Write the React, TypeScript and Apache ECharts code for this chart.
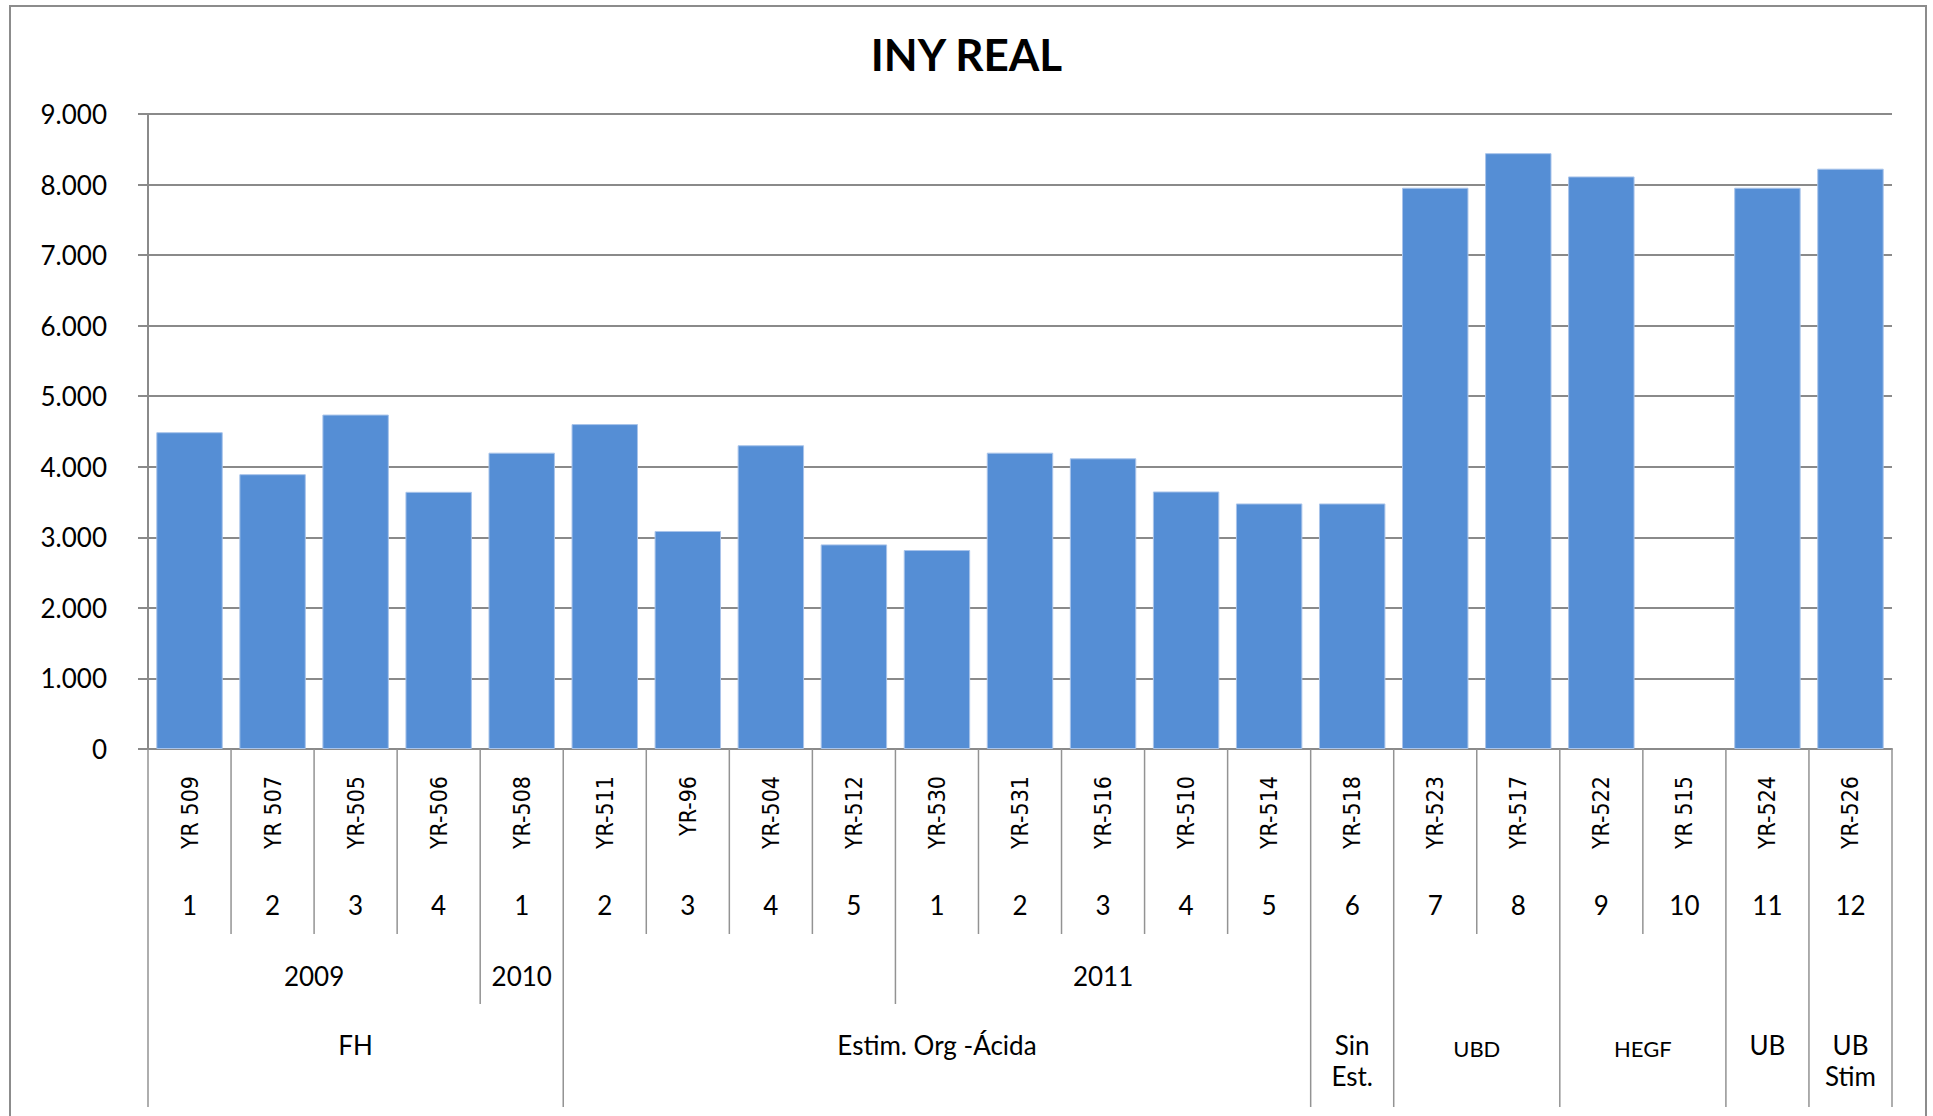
import React, { useEffect, useRef } from "react";
import * as echarts from "echarts";

// ---- data ----
const categories = [
  "YR 509", "YR 507", "YR-505", "YR-506", "YR-508", "YR-511", "YR-96", "YR-504", "YR-512",
  "YR-530", "YR-531", "YR-516", "YR-510", "YR-514", "YR-518", "YR-523", "YR-517", "YR-522",
  "YR 515", "YR-524", "YR-526",
];
const wellNumbers = ["1", "2", "3", "4", "1", "2", "3", "4", "5", "1", "2", "3", "4", "5", "6", "7", "8", "9", "10", "11", "12"];
const injectivity = [
  4490, 3895, 4740, 3645, 4200, 4605, 3090, 4305, 2900, 2820, 4200, 4120, 3650, 3480, 3480,
  7955, 8445, 8115, null, 7955, 8225,
];
const yearLabels = ["2009", "2010", "2011"];
const yearStarts = [0, 4, 9];
const yearEnds = [3, 4, 13];
const groupLabels = ["FH", "Estim. Org -Ácida", "Sin\nEst.", "UBD", "HEGF", "UB", "UB\nStim"];
const groupStarts = [0, 5, 14, 15, 17, 19, 20];
const groupEnds = [4, 13, 14, 16, 18, 19, 20];
const yMin = 0;
const yMax = 9000;
const yStep = 1000;

// ---- styles ----
const LABEL_FONT = "Lato, 'Liberation Sans', sans-serif";
const NAME_FONT = "'Liberation Sans Narrow', 'DejaVu Sans Condensed', 'DejaVu Sans', sans-serif";
const GRID_GRAY = "#8a8a8a";
const DIV_GRAY = "#939393";
const BAR_BLUE = "#558ed5";
const SMALL_GROUPS = new Set(["UBD", "HEGF"]);
// divider lengths below the axis: category row, year row, group row
const DIV_LEN = [185, 255, 358];
const YEAR_ROW = 227;
const GROUP_ROW = 295;

function fmt(v: number) {
  return String(v).replace(/\B(?=(\d{3})+(?!\d))/g, ".");
}

export default function App() {
  const ref = useRef<HTMLDivElement>(null);

  useEffect(() => {
    if (!ref.current) return;
    const chart = echarts.init(ref.current, null, { renderer: "svg" });
    const N = categories.length;

    const depth = new Array(N + 1).fill(0);
    yearStarts.forEach((s, k) => {
      depth[s] = Math.max(depth[s], 1);
      depth[yearEnds[k] + 1] = Math.max(depth[yearEnds[k] + 1], 1);
    });
    groupStarts.forEach((s, k) => {
      depth[s] = 2;
      depth[groupEnds[k] + 1] = 2;
    });

    const option: any = {
      animation: false,
      backgroundColor: "#fff",
      title: {
        text: "INY REAL",
        left: "center",
        top: 32,
        padding: 0,
        textStyle: { fontFamily: LABEL_FONT, fontWeight: "bold", fontSize: 44, color: "#000" },
      },
      graphic: [
        {
          type: "rect",
          silent: true,
          shape: { x: 10, y: 6, width: 1916, height: 1200 },
          style: { fill: "none", stroke: "#8c8c8c", lineWidth: 2 },
        },
      ],
      grid: {
        left: 148,
        right: 41,
        top: 114,
        bottom: 367,
        containLabel: false,
        outerBoundsMode: "none",
      },
      xAxis: [
        {
          type: "category",
          data: categories,
          position: "bottom",
          axisLine: { show: true, lineStyle: { color: GRID_GRAY, width: 2 } },
          axisTick: { show: false },
          axisLabel: {
            interval: 0,
            rotate: 90,
            margin: 27,
            fontFamily: NAME_FONT,
            fontSize: 23,
            color: "#000",
          },
        },
        {
          type: "category",
          data: wellNumbers,
          position: "bottom",
          offset: 0,
          axisLine: { show: false },
          axisTick: { show: false },
          axisLabel: {
            interval: 0,
            margin: 143,
            fontFamily: LABEL_FONT,
            fontSize: 26,
            color: "#000",
          },
        },
      ],
      yAxis: {
        type: "value",
        min: yMin,
        max: yMax,
        interval: yStep,
        axisLine: { show: true, lineStyle: { color: GRID_GRAY, width: 2 } },
        axisTick: { show: true, length: 10, lineStyle: { color: GRID_GRAY, width: 2 } },
        splitLine: { show: true, lineStyle: { color: GRID_GRAY, width: 2 } },
        axisLabel: {
          margin: 41,
          fontFamily: LABEL_FONT,
          fontSize: 26,
          color: "#000",
          formatter: (v: number) => fmt(v),
        },
      },
      series: [
        {
          name: "INY REAL",
          type: "bar",
          data: injectivity,
          barCategoryGap: "20%",
          itemStyle: { color: BAR_BLUE, borderColor: "#a9c4ea", borderWidth: 1 },
        },
        {
          type: "custom",
          clip: false,
          silent: true,
          data: categories.map((_, i) => [i, 0]),
          renderItem: (params: any, api: any) => {
            const idx = api.value(0);
            const p = api.coord([idx, 0]);
            const bw = api.size([1, 0])[0];
            const xl = p[0] - bw / 2;
            const children: any[] = [
              {
                type: "line",
                shape: { x1: xl, y1: p[1], x2: xl, y2: p[1] + DIV_LEN[depth[idx]] },
                style: { stroke: DIV_GRAY, lineWidth: 1.5 },
              },
            ];
            if (idx === N - 1) {
              const xr = p[0] + bw / 2;
              children.push({
                type: "line",
                shape: { x1: xr, y1: p[1], x2: xr, y2: p[1] + DIV_LEN[depth[N]] },
                style: { stroke: DIV_GRAY, lineWidth: 1.5 },
              });
            }
            return { type: "group", children };
          },
        },
        {
          type: "custom",
          clip: false,
          silent: true,
          data: yearStarts.map((s) => [s, 0]),
          renderItem: (params: any, api: any) => {
            const k = params.dataIndex;
            const a = api.coord([yearStarts[k], 0]);
            const b = api.coord([yearEnds[k], 0]);
            return {
              type: "text",
              x: (a[0] + b[0]) / 2,
              y: a[1] + YEAR_ROW,
              style: {
                text: yearLabels[k],
                fill: "#000",
                fontFamily: LABEL_FONT,
                fontSize: 26,
                align: "center",
                verticalAlign: "middle",
              },
            };
          },
        },
        {
          type: "custom",
          clip: false,
          silent: true,
          data: groupStarts.map((s) => [s, 0]),
          renderItem: (params: any, api: any) => {
            const k = params.dataIndex;
            const a = api.coord([groupStarts[k], 0]);
            const b = api.coord([groupEnds[k], 0]);
            const small = SMALL_GROUPS.has(groupLabels[k]);
            return {
              type: "text",
              x: (a[0] + b[0]) / 2,
              y: a[1] + GROUP_ROW - 15 + (small ? 4 : 0),
              style: {
                text: groupLabels[k],
                fill: "#000",
                fontFamily: LABEL_FONT,
                fontSize: small ? 22 : 26,
                lineHeight: 31,
                align: "center",
                verticalAlign: "top",
              },
            };
          },
        },
      ],
    };

    chart.setOption(option);
    return () => chart.dispose();
  }, []);

  return (
    <div
      ref={ref}
      style={{ position: "absolute", left: 0, top: 0, width: 1933, height: 1116, background: "#fff" }}
    />
  );
}
